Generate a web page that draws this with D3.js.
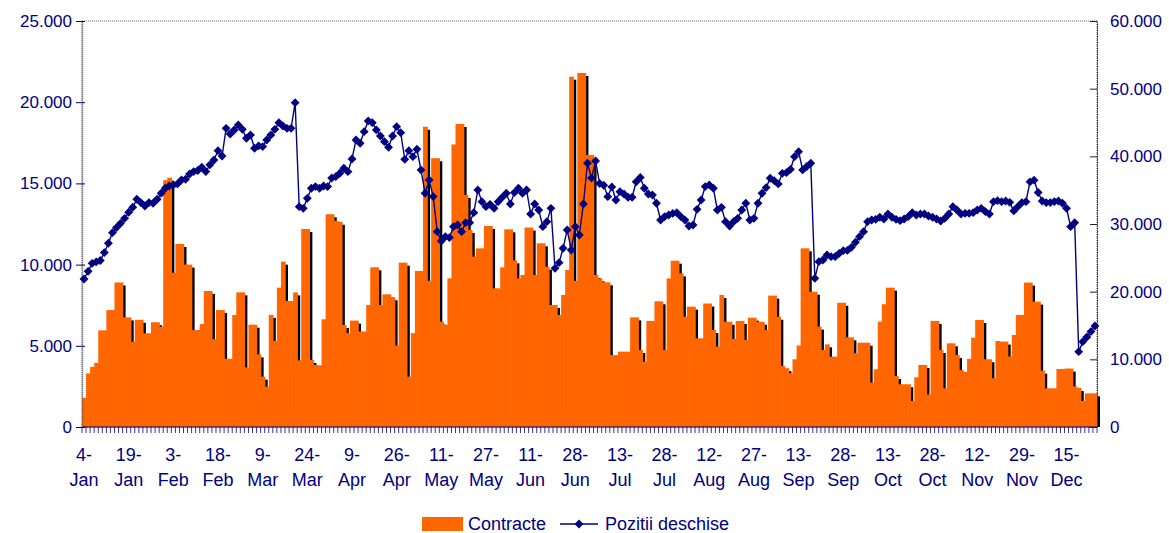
<!DOCTYPE html>
<html>
<head>
<meta charset="utf-8">
<script src="https://cdn.jsdelivr.net/npm/d3@7"></script>
<style>
  body { margin: 0; background: #fff; }
  svg text { font-family: "Liberation Sans", Arial, sans-serif; fill: #000080; }
</style>
</head>
<body>
<svg id="chart" width="1169" height="533"></svg>
<script>
// daily traded contracts (left axis)
const contracte = [
  1800, 3300, 3700, 3950, 5950, 5950, 7200, 7200, 8900, 8900,
  6750, 6750, 5250, 6600, 6600, 5770, 5770, 6450, 6450, 6180,
  15200, 15350, 9500, 11270, 11270, 10000, 10000, 5970, 5970, 6340,
  8375, 8375, 5400, 7200, 7200, 4200, 4200, 6900, 8290, 8290,
  3670, 6300, 6300, 4470, 3100, 2480, 6900, 5300, 8580, 10180,
  7760, 7760, 8290, 4100, 12190, 12190, 4130, 3820, 3800, 6630,
  13100, 13100, 12690, 12640, 6280, 5780, 6550, 6550, 5880, 5880,
  7510, 9830, 9830, 7510, 8170, 8170, 7990, 5010, 10120, 10120,
  3100, 5780, 9610, 9610, 18490, 9000, 16550, 16550, 6490, 6280,
  9150, 17400, 18660, 18660, 14290, 12130, 10490, 11000, 11000, 12380,
  12380, 8540, 8540, 9830, 12170, 12170, 10260, 9150, 9360, 12280,
  12280, 9360, 11310, 11310, 9870, 7510, 7510, 6900, 8130, 9670,
  21570, 9000, 21800, 21800, 16750, 16750, 9360, 9150, 8910, 8910,
  4430, 4430, 4640, 4640, 4640, 6750, 6750, 4740, 4020, 6530,
  6530, 7740, 7740, 4740, 9150, 10240, 10240, 9460, 6790, 7410,
  7410, 5460, 5460, 7600, 7600, 5970, 4950, 8130, 6480, 6480,
  5420, 6530, 6530, 5360, 6730, 6730, 6480, 6480, 5970, 8090,
  8090, 6790, 3760, 3620, 3310, 4170, 5020, 11000, 11000, 8330,
  8330, 6180, 4740, 5090, 4330, 4330, 7650, 7650, 5520, 5520,
  4540, 5190, 5190, 5190, 2730, 3550, 6480, 7560, 8580, 8580,
  3140, 2630, 2630, 2630, 1600, 3060, 3820, 3820, 2000, 6530,
  6530, 4740, 2380, 5150, 5150, 4430, 3510, 3400, 4200, 5500,
  6590, 6590, 4170, 4170, 3000, 5300, 5260, 5260, 4340, 5670,
  6900, 6900, 8890, 8890, 7720, 7720, 3470, 2380, 2380, 2380,
  3570, 3570, 3600, 3600, 2500, 2400, 1600, 2070, 2070, 2070
];

// open positions (right axis)
const pozitii = [
  21870, 23000, 24190, 24400, 24600, 25770, 27150, 28720, 29470, 30100,
  30840, 31730, 32470, 33650, 33160, 32660, 33160, 33060, 33650, 34540,
  35280, 35620, 35770, 35920, 36510, 36610, 37390, 37750, 37900, 38390,
  37750, 38740, 39460, 40840, 40050, 44140, 43300, 43890, 44640, 43990,
  42670, 43160, 41190, 41540, 41440, 42420, 43160, 43990, 44980, 44490,
  44140, 44140, 47930, 32560, 32310, 33800, 35280, 35530, 35280, 35620,
  35530, 36800, 37000, 37500, 38240, 37740, 39610, 42420, 41930, 43650,
  45230, 44980, 43900, 43010, 42170, 41340, 43010, 44390, 43500, 39560,
  40840, 39950, 41040, 37990, 34540, 36510, 34050, 28870, 27490, 28130,
  27990, 29610, 29860, 28870, 30200, 30200, 31680, 35030, 33300, 32560,
  32910, 32310, 33300, 33940, 34540, 32960, 34640, 35280, 34540, 35030,
  31480, 32960, 32070, 29610, 30350, 32310, 23450, 24290, 26410, 29120,
  26160, 29610, 28380, 32960, 38990, 36780, 39310, 35980, 35730, 34040,
  35480, 33550, 34780, 34440, 33950, 33950, 36230, 36870, 35280, 34440,
  34290, 33060, 30590, 31080, 31330, 31570, 31670, 31080, 30590, 29710,
  29860, 32170, 33550, 35530, 35780, 35280, 32070, 32460, 30350, 29710,
  30350, 30840, 32070, 33060, 30590, 30840, 33060, 34540, 35380, 36760,
  36410, 35920, 37490, 37590, 38080, 39950, 40690, 37990, 38490, 38980,
  21970, 24430, 24680, 25420, 25170, 25170, 25660, 26060, 26100, 26550,
  27300, 28130, 28870, 30350, 30590, 30690, 30990, 30740, 31480, 30990,
  30690, 30490, 30740, 31080, 31680, 31330, 31480, 31480, 31180, 30990,
  30740, 30440, 30840, 31480, 32560, 32070, 31480, 31580, 31580, 31680,
  32070, 32310, 31830, 31480, 33300, 33450, 33300, 33400, 33200, 31930,
  32560, 33160, 33300, 36230, 36480, 34660, 33400, 33160, 33160, 33300,
  33400, 33060, 32310, 29610, 30200, 11130, 12610, 13300, 14100, 14930
];

// category axis labels, one every 11 trading days
const tickDays = ["4-", "19-", "3-", "18-", "9-", "24-", "9-", "26-", "11-", "27-", "11-", "28-",
  "13-", "28-", "12-", "27-", "13-", "28-", "13-", "28-", "12-", "29-", "15-"];
const tickMonths = ["Jan", "Jan", "Feb", "Feb", "Mar", "Mar", "Apr", "Apr", "May", "May", "Jun", "Jun",
  "Jul", "Jul", "Aug", "Aug", "Sep", "Sep", "Oct", "Oct", "Nov", "Nov", "Dec"];
const labelStep = 11;

const leftTicks = [0, 5000, 10000, 15000, 20000, 25000];
const rightTicks = [0, 10000, 20000, 30000, 40000, 50000, 60000];

const orange = "#ff6600";
const navy = "#000080";

const svg = d3.select("#chart");
const pLeft = 82, pRight = 1097, pTop = 21, pBottom = 427;
const N = contracte.length;

const x = d3.scaleBand().domain(d3.range(N)).range([pLeft, pRight]).padding(0);
const yL = d3.scaleLinear().domain([0, 25000]).range([pBottom, pTop]);
const yR = d3.scaleLinear().domain([0, 60000]).range([pBottom, pTop]);
const fmt = d => d3.format(",")(d).replace(/,/g, ".");

// plot area border (dotted)
svg.append("rect")
  .attr("x", pLeft).attr("y", pTop)
  .attr("width", pRight - pLeft).attr("height", pBottom - pTop)
  .attr("fill", "none")
  .attr("stroke", "#666")
  .attr("stroke-dasharray", "1,1");

// bars with the black drop shadow, drawn one after another
const bw = x.bandwidth();
const barG = svg.append("g");
contracte.forEach((v, i) => {
  barG.append("rect")
    .attr("x", x(i) + 3).attr("y", yL(v) + 3)
    .attr("width", bw).attr("height", Math.max(0, pBottom - yL(v) - 3))
    .attr("fill", "#000");
  barG.append("rect")
    .attr("x", x(i)).attr("y", yL(v))
    .attr("width", bw + 0.7).attr("height", pBottom - yL(v))
    .attr("fill", orange);
});

// x axis line + tick marks at every category
svg.append("line")
  .attr("x1", pLeft).attr("x2", pRight)
  .attr("y1", pBottom).attr("y2", pBottom)
  .attr("stroke", navy).attr("stroke-width", 1.2);
svg.append("g").selectAll("line")
  .data(d3.range(N + 1))
  .join("line")
  .attr("x1", i => pLeft + i * bw).attr("x2", i => pLeft + i * bw)
  .attr("y1", pBottom).attr("y2", pBottom + 6)
  .attr("stroke", navy).attr("stroke-width", 0.8);

// x labels
const xl = svg.append("g").attr("font-size", 18).attr("text-anchor", "middle");
tickDays.forEach((d, k) => {
  const cx = x(k * labelStep) + bw / 2;
  const t = xl.append("text").attr("x", cx);
  t.append("tspan").attr("x", cx).attr("y", 461).text(d);
  t.append("tspan").attr("x", cx).attr("y", 486).text(tickMonths[k]);
});

// left axis
const axL = svg.append("g")
  .attr("transform", `translate(${pLeft},0)`)
  .call(d3.axisLeft(yL).tickValues(leftTicks).tickFormat(fmt).tickSizeOuter(0));
axL.select(".domain").attr("stroke", "#556").attr("stroke-width", 1.5).attr("stroke-dasharray", "1,1");
axL.selectAll(".tick line").attr("x1", 3).attr("x2", -6).attr("stroke", navy);
axL.selectAll(".tick text").attr("x", -10).attr("font-size", 17)
  .attr("font-family", "Liberation Sans, Arial, sans-serif").attr("fill", navy);

// right axis
const axR = svg.append("g")
  .attr("transform", `translate(${pRight},0)`)
  .call(d3.axisRight(yR).tickValues(rightTicks).tickFormat(fmt).tickSizeOuter(0));
axR.select(".domain").attr("stroke", "#222").attr("stroke-dasharray", "2,1");
axR.selectAll(".tick line").attr("x1", -7).attr("x2", 0).attr("stroke", "#222");
axR.selectAll(".tick text").attr("x", 13).attr("font-size", 17)
  .attr("font-family", "Liberation Sans, Arial, sans-serif").attr("fill", navy);

// open positions line
const line = d3.line()
  .x((d, i) => x(i) + bw / 2)
  .y(d => yR(d));
svg.append("path")
  .datum(pozitii)
  .attr("d", line)
  .attr("fill", "none")
  .attr("stroke", navy)
  .attr("stroke-width", 1.4);

const diamond = d3.symbol().type(d3.symbolDiamond2).size(50);
svg.append("g").selectAll("path")
  .data(pozitii)
  .join("path")
  .attr("d", diamond)
  .attr("transform", (d, i) => `translate(${x(i) + bw / 2},${yR(d)})`)
  .attr("fill", navy);

// legend
const lg = svg.append("g").attr("font-size", 18);
lg.append("rect").attr("x", 422).attr("y", 517).attr("width", 41).attr("height", 14).attr("fill", orange);
lg.append("text").attr("x", 468).attr("y", 530).text("Contracte");
lg.append("line").attr("x1", 560).attr("x2", 598).attr("y1", 524).attr("y2", 524)
  .attr("stroke", navy).attr("stroke-width", 1.4);
lg.append("path").attr("d", diamond).attr("transform", "translate(579,524)").attr("fill", navy);
lg.append("text").attr("x", 605).attr("y", 530).text("Pozitii deschise");
</script>
</body>
</html>
